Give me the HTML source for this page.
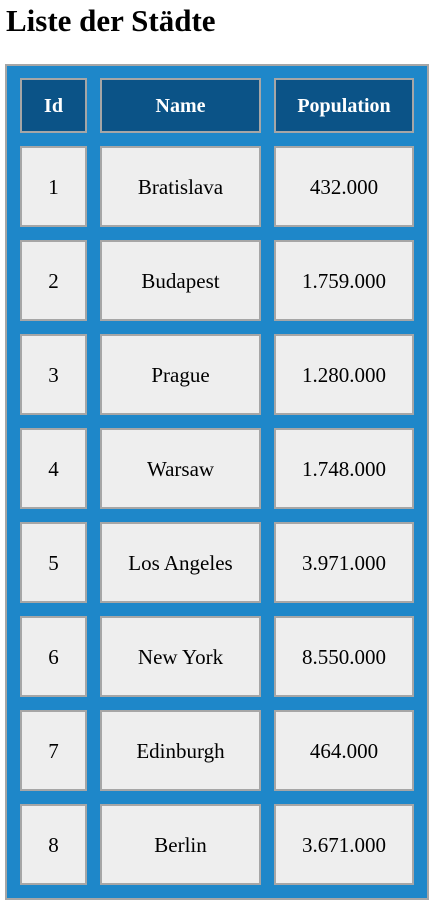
<!DOCTYPE html>
<html><head><meta charset="utf-8">
<style>
body{margin:0;background:#fff;font-family:"Liberation Serif",serif;width:437px;height:907px;position:relative;overflow:hidden}
h1{position:absolute;left:6px;top:3px;margin:0;font-size:31px;font-weight:bold;color:#000}
.tbl{position:absolute;left:5px;top:64px;width:420px;height:832px;background:#1e87c9;border:2px solid #a6a6a6}
.c{position:absolute;box-sizing:border-box;border:2px solid #a6a6a6;background:#eeeeee;display:flex;align-items:center;justify-content:center;font-size:21px;color:#000;padding-top:2px}
.h{background:#0b5387;color:#fff;font-weight:bold;font-size:20px}
</style></head><body>
<h1>Liste der Städte</h1>
<div class="tbl" id="t"></div>
<script>
const ids=[1,2,3,4,5,6,7,8];
const names=["Bratislava","Budapest","Prague","Warsaw","Los Angeles","New York","Edinburgh","Berlin"];
const pops=["432.000","1.759.000","1.280.000","1.748.000","3.971.000","8.550.000","464.000","3.671.000"];
const headers=["Id","Name","Population"];
const t=document.getElementById('t');
const cols=[[13,67],[93,161],[267,140]];
function cell(txt,x,y,w,h,cls,name){
  const d=document.createElement('div');
  d.className='c'+(cls?' '+cls:'');
  d.style.left=x+'px';d.style.top=y+'px';d.style.width=w+'px';d.style.height=h+'px';
  d.textContent=txt;
  
  
  t.appendChild(d);
}
headers.forEach((h,i)=>cell(h,cols[i][0],12,cols[i][1],55,'h','header-'+h.toLowerCase()));
ids.forEach((id,r)=>{
  const y=80+94*r;
  cell(String(id),cols[0][0],y,cols[0][1],81,'','id-cell');
  cell(names[r],cols[1][0],y,cols[1][1],81,'','name-cell');
  cell(pops[r],cols[2][0],y,cols[2][1],81,'','population-cell');
});
</script>
</body></html>
